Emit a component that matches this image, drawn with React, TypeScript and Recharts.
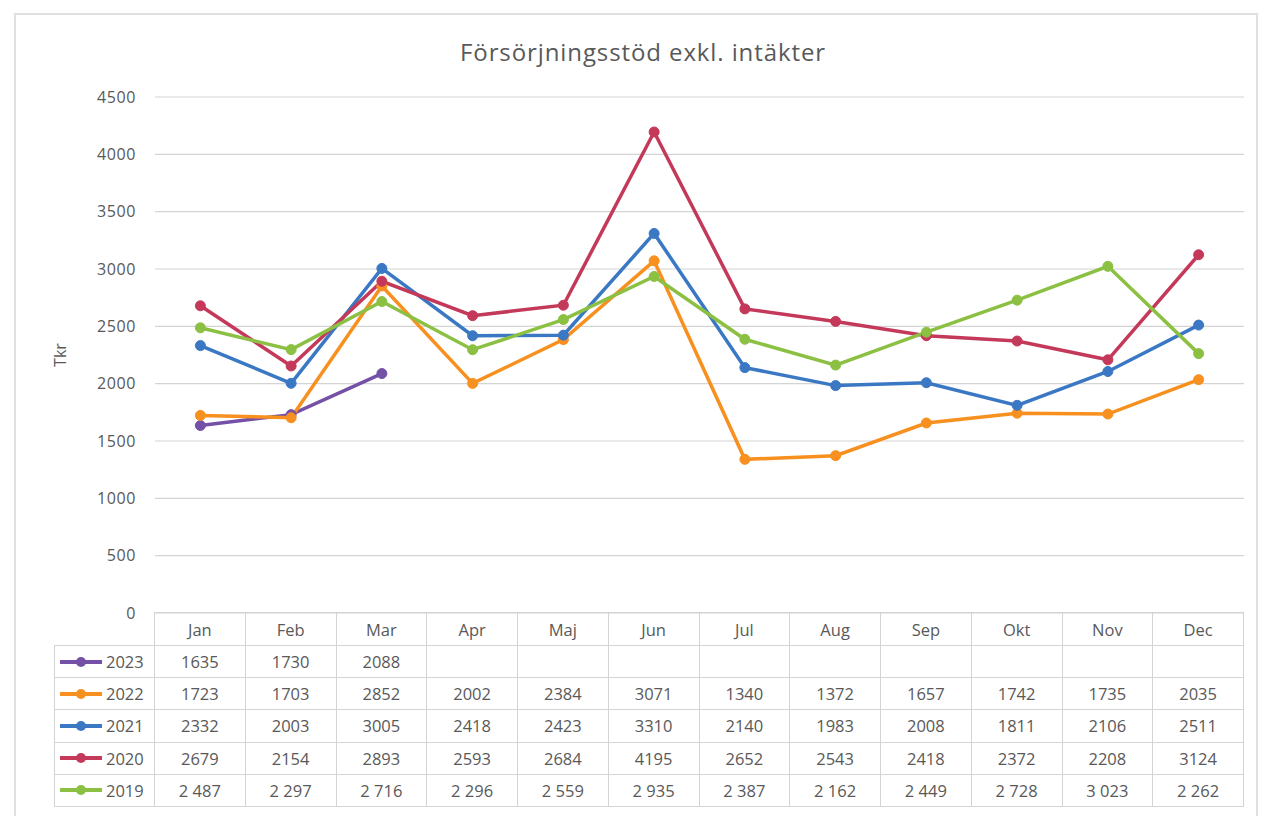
import React from "react"
import { CartesianGrid, Line, LineChart, XAxis, YAxis } from "recharts"

const MONTHS = ["Jan", "Feb", "Mar", "Apr", "Maj", "Jun", "Jul", "Aug", "Sep", "Okt", "Nov", "Dec"]
const Y_TICKS = [0, 500, 1000, 1500, 2000, 2500, 3000, 3500, 4000, 4500]

const V2023 = [1635, 1730, 2088, null, null, null, null, null, null, null, null, null]
const V2022 = [1723, 1703, 2852, 2002, 2384, 3071, 1340, 1372, 1657, 1742, 1735, 2035]
const V2021 = [2332, 2003, 3005, 2418, 2423, 3310, 2140, 1983, 2008, 1811, 2106, 2511]
const V2020 = [2679, 2154, 2893, 2593, 2684, 4195, 2652, 2543, 2418, 2372, 2208, 3124]
const V2019 = [2487, 2297, 2716, 2296, 2559, 2935, 2387, 2162, 2449, 2728, 3023, 2262]

const SERIES = [
  { key: "y2023", name: "2023", values: V2023, color: "#7451a6", spaced: false },
  { key: "y2022", name: "2022", values: V2022, color: "#f7901e", spaced: false },
  { key: "y2021", name: "2021", values: V2021, color: "#3a78c4", spaced: false },
  { key: "y2020", name: "2020", values: V2020, color: "#c4395a", spaced: false },
  { key: "y2019", name: "2019", values: V2019, color: "#8bc043", spaced: true },
]

const data = MONTHS.map((m, i) => {
  const row: Record<string, string | number | null> = { month: m }
  SERIES.forEach((s) => (row[s.key] = s.values[i]))
  return row
})

const FONT = "'Open Sans', 'Noto Sans', sans-serif"
const TEXT = "#595959"
const LINE = "#d4d4d4"

const PLOT_LEFT = 155
const PLOT_RIGHT = 1244
const PLOT_TOP = 97
const PLOT_BOTTOM = 613
const COL_W = (PLOT_RIGHT - PLOT_LEFT) / MONTHS.length
const HEAD_H = 33
const ROW_H = 32.2

function fmt(v: number | null, spaced: boolean) {
  if (v == null) return ""
  const s = String(v)
  return spaced ? s.replace(/\B(?=(\d{3})+(?!\d))/g, " ") : s
}

function cell(left: number, top: number, width: number, height: number): React.CSSProperties {
  return {
    position: "absolute",
    left,
    top,
    width,
    height,
    boxSizing: "border-box",
    border: `1px solid ${LINE}`,
    marginLeft: -1,
    marginTop: -1,
    display: "flex",
    alignItems: "center",
    justifyContent: "center",
    fontSize: 16.5,
    color: TEXT,
  }
}

function DataTable() {
  return (
    <div style={{ position: "absolute", left: 0, top: 0, fontFamily: FONT }}>
      {MONTHS.map((m, i) => (
        <div key={m} style={cell(PLOT_LEFT + i * COL_W, PLOT_BOTTOM, COL_W + 1, HEAD_H + 1)}>
          {m}
        </div>
      ))}
      {SERIES.map((s, r) => {
        const top = PLOT_BOTTOM + HEAD_H + r * ROW_H
        return (
          <React.Fragment key={s.key}>
            <div style={{ ...cell(55, top, PLOT_LEFT - 55 + 1, ROW_H + 1), justifyContent: "flex-start" }}>
              <svg width={46} height={12} style={{ marginLeft: 3 }}>
                <line x1={2} y1={6} x2={44} y2={6} stroke={s.color} strokeWidth={4} />
                <circle cx={23} cy={6} r={5} fill={s.color} />
              </svg>
              <span style={{ marginLeft: 2 }}>{s.name}</span>
            </div>
            {MONTHS.map((m, i) => (
              <div key={m} style={cell(PLOT_LEFT + i * COL_W, top, COL_W + 1, ROW_H + 1)}>
                {fmt(s.values[i], s.spaced)}
              </div>
            ))}
          </React.Fragment>
        )
      })}
    </div>
  )
}

export default function App() {
  return (
    <div style={{ position: "absolute", left: 0, top: 0, width: 1261, height: 816, background: "#fff", overflow: "hidden" }}>
      <div
        style={{
          position: "absolute",
          left: 14,
          top: 13,
          width: 1244,
          height: 820,
          border: "2px solid #e0e0e0",
          boxSizing: "border-box",
        }}
      />
      <div
        style={{
          position: "absolute",
          left: 0,
          width: 1286,
          top: 35,
          textAlign: "center",
          fontFamily: FONT,
          fontSize: 24,
          letterSpacing: 0.9,
          color: TEXT,
        }}
      >
        Försörjningsstöd exkl. intäkter
      </div>
      <div
        style={{
          position: "absolute",
          left: 60,
          top: 355,
          transform: "translate(-50%, -50%) rotate(-90deg)",
          fontFamily: FONT,
          fontSize: 16,
          color: TEXT,
        }}
      >
        Tkr
      </div>
      <div style={{ position: "absolute", left: 0, top: 0 }}>
        <LineChart
          width={1261}
          height={816}
          data={data}
          margin={{ top: PLOT_TOP, right: 1261 - PLOT_RIGHT, bottom: 816 - PLOT_BOTTOM, left: 0 }}
        >
          <CartesianGrid horizontal vertical={false} stroke={LINE} strokeWidth={1.2} />
          <XAxis dataKey="month" hide padding={{ left: COL_W / 2, right: COL_W / 2 }} />
          <YAxis
            width={PLOT_LEFT}
            domain={[0, 4500]}
            ticks={Y_TICKS}
            interval={0}
            axisLine={false}
            tickLine={false}
            tickSize={0}
            tickMargin={19}
            tick={{ fill: TEXT, fontSize: 16, fontFamily: FONT, letterSpacing: 0.6 }}
          />
          {SERIES.map((s) => (
            <Line
              key={s.key}
              dataKey={s.key}
              name={s.name}
              type="linear"
              stroke={s.color}
              strokeWidth={3.5}
              dot={{ r: 5, fill: s.color, stroke: s.color, strokeWidth: 1 }}
              activeDot={false}
              isAnimationActive={false}
              connectNulls={false}
            />
          ))}
        </LineChart>
      </div>
      <DataTable />
    </div>
  )
}
